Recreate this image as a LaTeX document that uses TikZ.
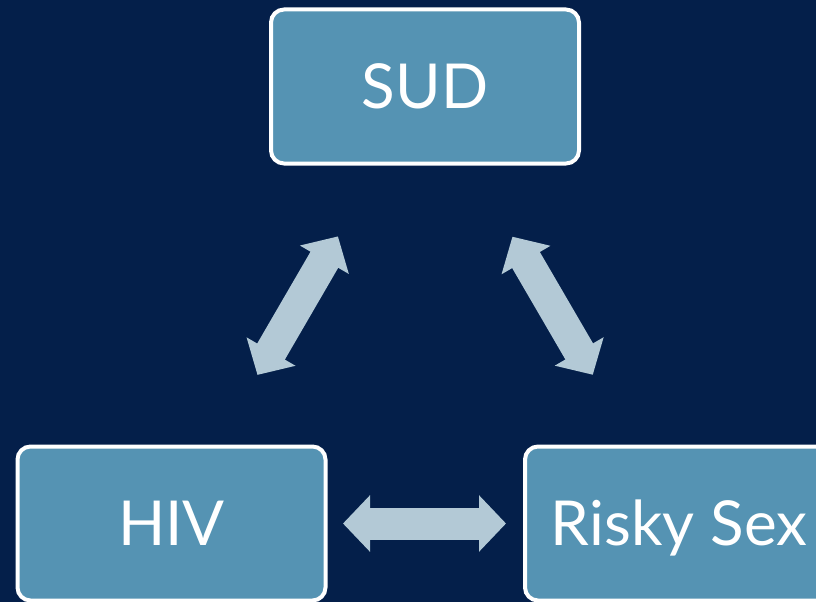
\documentclass[tikz,border=0pt]{standalone}
\usepackage{fontspec}
\setmainfont{Lato}
\usepackage{xcolor}
\usepackage{tikz}
\usetikzlibrary{arrows.meta,positioning}
\definecolor{NavyBg}   {RGB}{  4, 31, 74}
\definecolor{BoxBlue}  {RGB}{ 85,147,179}
\definecolor{ArrowGrey}{RGB}{179,201,214}

\begin{document}
\begin{tikzpicture}[x=1pt,y=-1pt,
    factor/.style={draw=white, line width=4pt, fill=BoxBlue,
      rounded corners=13pt, minimum width=308pt, minimum height=154pt,
      text=white, font=\fontsize{62}{68}\selectfont,
      text height=44.5pt, text depth=0pt},
    twoway/.style={ArrowGrey, line width=32pt,
      {Triangle[length=27pt,width=55pt]}-{Triangle[length=27pt,width=55pt]}}]
      \useasboundingbox (0,0) rectangle (816,602);
      \clip (0,0) rectangle (816,602);
      \fill[NavyBg] (0,0) rectangle (816,602);
      % the three boxes — SUD on top, the other two cut off at the edges
      \node[factor] (sud)   at (425,86.5)  {SUD};
      \node[factor] (hiv)   at (171.5,523.5) {HIV};
      \node[factor] (risky) at (679,523.5) {Risky Sex};
      % two-way arrows between them
      \draw[twoway, shorten <=82pt, shorten >=80.5pt] (sud) -- (hiv);
      \draw[twoway, shorten <=82.4pt, shorten >=80.7pt] (sud) -- (risky);
      \draw[twoway, shorten <=15.5pt, shorten >=17pt] (hiv) -- (risky);
    \end{tikzpicture}
\end{document}
